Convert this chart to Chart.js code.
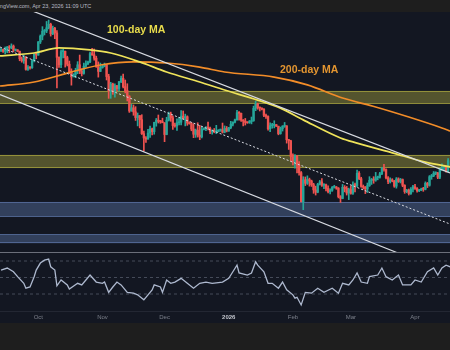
<!DOCTYPE html>
<html>
<head>
<meta charset="utf-8">
<title>BTC daily with moving averages and RSI</title>
<script src="https://cdn.jsdelivr.net/npm/chart.js@4.4.1/dist/chart.umd.min.js"></script>
<style>
  html, body { margin: 0; padding: 0; width: 450px; height: 350px; overflow: hidden; background: #1e1e1e; }
  #head { position: absolute; left: 0; top: 0; width: 450px; height: 12px; background: #1e1e1e; overflow: hidden; }
  #head span { position: absolute; left: -12.5px; top: 3px; line-height: 7px; font: 5.5px "Liberation Sans", Arial, sans-serif; color: #b8bcc6; white-space: nowrap; }
  #priceBox { position: absolute; left: 0; top: 12px; width: 450px; height: 241px; background: #131722; }
  #rsiBox { position: absolute; left: 0; top: 253px; width: 450px; height: 70px; background: #131722; }
  #sep { position: absolute; left: 0; top: 252px; width: 450px; height: 1px; background: #6b6f7a; z-index: 3; }
  .ma { position: absolute; font: bold 10.5px "Liberation Sans", Arial, sans-serif; line-height: 10.5px; white-space: nowrap; z-index: 4; }
</style>
</head>
<body>
<div id="head"><span>TradingView.com, Apr 23, 2026 11:09 UTC</span></div>
<div id="priceBox"><canvas id="priceChart" width="450" height="241"></canvas></div>
<div id="sep"></div>
<div id="rsiBox"><canvas id="rsiChart" width="450" height="70"></canvas></div>
<div class="ma" style="left:107px; top:23.8px; color:#e8dc4c;">100-day MA</div>
<div class="ma" style="left:280px; top:64.4px; color:#e39530;">200-day MA</div>

<script>
// Daily candles, prices in thousands of USD. Day 0 = 13 Sep 2025.
const open = [
  115.5,115.9,115.3,115.4,116.8,116.5,117.1,115.7,115.8,115.3,
  112.7,112.0,113.3,109.0,109.7,109.6,112.1,114.3,114.0,118.6,
  120.6,122.3,122.4,123.5,124.7,121.4,123.3,121.7,113.2,110.6,
  115.2,115.3,113.1,110.8,108.2,106.4,107.2,108.6,110.6,108.4,
  107.6,110.1,111.0,111.6,114.5,114.1,112.9,110.0,108.3,109.6,
  110.1,110.6,106.5,101.5,103.9,101.3,103.3,102.3,104.7,105.9,
  103.0,101.6,99.7,94.5,95.6,94.2,92.2,92.9,91.5,86.6,
  85.1,84.7,86.8,88.3,87.3,90.5,91.3,90.9,90.8,90.4,
  86.3,91.3,93.5,92.1,89.4,89.3,90.4,90.6,92.7,92.0,
  92.5,90.3,90.1,88.2,86.4,87.8,86.1,85.5,88.1,88.3,
  88.6,88.5,87.4,87.6,87.2,87.3,87.8,87.9,87.1,88.4,
  87.5,88.7,89.9,90.6,91.4,93.9,93.7,91.3,91.0,90.5,
  90.4,90.8,91.1,95.4,97.0,95.6,95.5,95.1,93.0,92.6,
  88.3,89.4,89.5,89.7,89.2,86.6,88.3,89.2,89.3,84.5,
  84.1,78.6,76.9,78.7,75.6,73.0,62.9,70.5,69.3,70.6,
  70.1,68.8,67.0,66.2,68.9,69.8,68.6,68.8,67.5,66.4,
  66.9,67.9,68.0,67.6,64.6,64.0,67.9,67.5,65.9,67.1,
  65.8,68.9,68.4,72.8,70.9,68.2,67.9,67.3,68.5,70.3,
  70.6,70.4,71.3,71.4,72.6,74.5,74.1,71.2,69.9,70.5,
  70.1,68.3,70.8,69.9,70.6,68.6,66.4,66.9,65.7,67.2,
  68.1,67.5,66.7,66.9,67.3,67.2,69.3,68.6,71.6,71.9,
  72.8,72.9,71.4,74.3,74.6,74.9,73.4
];
const high = [
  116.3,116.1,116.8,117.0,117.3,117.9,117.5,116.1,115.9,115.4,
  113.3,113.9,113.5,110.3,109.8,112.4,114.4,114.8,118.7,121.0,
  123.9,122.9,125.7,126.2,125.1,124.1,123.7,122.5,113.4,115.8,
  116.0,115.4,113.6,111.9,109.2,107.5,109.4,111.7,114.0,109.2,
  111.2,112.0,111.9,115.0,116.3,116.1,113.6,111.6,111.2,110.6,
  111.2,110.7,107.3,104.5,104.2,104.0,103.4,104.8,106.7,107.4,
  105.3,104.0,99.8,96.8,96.6,96.0,93.8,92.9,93.2,87.5,
  85.6,88.1,89.2,88.5,90.6,91.9,93.1,91.2,92.0,90.4,
  92.3,94.1,94.1,92.7,90.3,91.8,92.3,94.6,94.5,93.4,
  92.8,90.7,90.5,90.0,88.2,90.4,89.5,89.0,88.6,89.1,
  90.6,88.9,87.9,88.4,89.5,88.0,88.2,90.3,89.3,89.1,
  88.8,90.9,90.7,91.7,94.7,94.3,93.8,91.5,91.9,90.7,
  91.2,92.4,96.2,97.9,97.2,95.9,95.6,95.3,93.4,92.8,
  90.4,90.2,91.1,89.8,89.2,88.9,89.4,90.5,89.4,84.6,
  84.3,79.6,79.3,79.0,76.9,73.4,71.6,71.5,71.9,71.1,
  70.4,69.3,68.3,69.3,70.3,70.9,69.2,69.0,68.4,67.4,
  68.2,68.6,68.2,67.8,65.0,68.9,68.5,68.2,67.6,68.4,
  69.8,69.4,73.9,73.4,71.4,68.7,68.2,69.4,71.6,71.0,
  71.6,73.1,71.8,73.1,74.9,75.9,74.3,71.6,71.2,70.9,
  70.3,71.3,71.2,71.0,70.8,68.8,67.2,67.3,67.8,68.6,
  68.9,67.8,67.2,67.6,67.9,69.8,69.6,72.0,72.4,73.4,
  73.3,73.1,74.6,76.1,75.4,75.3,77.9
];
const low = [
  115.2,114.9,114.4,114.8,114.8,116.2,115.1,115.4,115.2,112.0,
  111.5,111.1,108.7,108.6,109.1,109.3,111.6,112.7,113.9,118.0,
  119.3,121.0,121.8,123.1,120.6,121.1,119.7,102.5,109.7,109.6,
  113.0,109.8,110.2,107.5,103.5,106.4,106.1,107.5,107.5,106.7,
  107.3,109.7,110.6,111.3,113.9,112.2,109.7,106.3,108.2,109.4,
  109.9,105.3,98.9,98.9,100.3,99.3,101.5,101.5,104.4,102.5,
  100.8,98.0,94.0,94.4,93.0,91.2,89.3,88.6,86.3,80.6,
  83.5,84.7,85.3,86.2,86.4,89.2,90.3,90.2,90.4,83.8,
  86.2,91.0,90.9,88.1,88.9,87.7,89.6,89.6,91.6,89.3,
  89.5,89.9,87.6,85.2,85.3,85.4,84.5,85.1,87.9,87.6,
  87.9,86.6,86.4,86.9,86.6,87.2,87.4,86.8,86.9,87.2,
  87.4,88.3,89.3,90.3,91.3,91.3,90.9,89.3,89.6,90.2,
  90.2,90.0,90.9,94.6,95.1,94.5,94.9,92.5,91.9,87.8,
  87.3,88.5,88.6,89.1,86.2,86.4,87.5,88.8,83.3,81.1,
  77.0,75.7,74.6,72.9,72.1,62.8,60.1,68.5,68.9,68.3,
  68.2,65.8,65.2,66.0,68.7,68.2,67.4,66.6,65.9,65.6,
  66.5,67.6,67.2,64.2,62.6,63.9,66.3,65.2,63.6,65.5,
  65.4,66.3,68.0,70.6,67.9,67.3,65.7,66.1,68.2,68.9,
  69.3,70.0,70.5,71.1,72.3,73.5,70.8,69.2,69.4,69.8,
  67.9,67.6,69.6,69.4,68.1,65.8,66.0,65.2,65.4,66.3,
  67.2,66.2,66.4,66.7,66.5,67.0,67.8,68.3,70.7,71.6,
  72.3,70.9,70.9,73.8,73.6,73.2,73.2
];
const close = [
  115.9,115.3,115.4,116.8,116.5,117.1,115.7,115.8,115.3,112.7,
  112.0,113.3,109.0,109.7,109.6,112.1,114.3,114.0,118.6,120.6,
  122.3,122.4,123.5,124.7,121.4,123.3,121.7,113.2,110.6,115.2,
  115.3,113.1,110.8,108.2,106.4,107.2,108.6,110.6,108.4,107.6,
  110.1,111.0,111.6,114.5,114.1,112.9,110.0,108.3,109.6,110.1,
  110.6,106.5,101.5,103.9,101.3,103.3,102.3,104.7,105.9,103.0,
  101.6,99.7,94.5,95.6,94.2,92.2,92.9,91.5,86.6,85.1,
  84.7,86.8,88.3,87.3,90.5,91.3,90.9,90.8,90.4,86.3,
  91.3,93.5,92.1,89.4,89.3,90.4,90.6,92.7,92.0,92.5,
  90.3,90.1,88.2,86.4,87.8,86.1,85.5,88.1,88.3,88.6,
  88.5,87.4,87.6,87.2,87.3,87.8,87.9,87.1,88.4,87.5,
  88.7,89.9,90.6,91.4,93.9,93.7,91.3,91.0,90.5,90.4,
  90.8,91.1,95.4,97.0,95.6,95.5,95.1,93.0,92.6,88.3,
  89.4,89.5,89.7,89.2,86.6,88.3,89.2,89.3,84.5,84.1,
  78.6,76.9,78.7,75.6,73.0,62.9,70.5,69.3,70.6,70.1,
  68.8,67.0,66.2,68.9,69.8,68.6,68.8,67.5,66.4,66.9,
  67.9,68.0,67.6,64.6,64.0,67.9,67.5,65.9,67.1,65.8,
  68.9,68.4,72.8,70.9,68.2,67.9,67.3,68.5,70.3,70.6,
  70.4,71.3,71.4,72.6,74.5,74.1,71.2,69.9,70.5,70.1,
  68.3,70.8,69.9,70.6,68.6,66.4,66.9,65.7,67.2,68.1,
  67.5,66.7,66.9,67.3,67.2,69.3,68.6,71.6,71.9,72.8,
  72.9,71.4,74.3,74.6,74.9,73.4,77.2
];

// Moving averages (day index, value)
const ma100Days = [-0.5, 16, 28, 43, 53, 67, 80, 96, 108, 124, 135, 146, 164, 172, 189, 205, 217];
const ma100 =     [113.7, 114.7, 116.5, 115.8, 114.7, 111.6, 108.1, 104.6, 101.8, 98.3, 95.5, 91.4, 85.1, 83.3, 79.9, 76.7, 75.0];
const ma200Days = [-0.5, 16, 32, 48, 64, 80, 96, 108, 132, 148, 165, 181, 197, 213, 217];
const ma200 =     [103.2, 104.6, 107.7, 110.5, 111.6, 111.2, 109.8, 108.1, 106.3, 103.6, 99.0, 95.9, 92.4, 88.6, 87.5];

// Descending channel: upper and lower rails plus dotted mid line
const upperRailDays = [10, 216.9];
const upperRail =     [130.8, 72.9];
const lowerRailDays = [-0.5, 191.8];
const lowerRail =     [100.25, 45.0];
const midLineDays =   [-0.5, 216.9];
const midLine =       [116.8, 55.1];

// Horizontal price zones
const zoneTop =    [101.5, 79.2, 62.8, 51.6];
const zoneBottom = [97.0, 74.6, 57.6, 48.4];
const zoneKind =   ['resistance', 'resistance', 'support', 'support'];

// RSI (14) readings (day index, value) and reference levels
const rsiDays = [0,3,6,8,11,12,14,16,17,19,21,23,24,25,26,27,29,32,33,37,39,41,43,46,49,50,52,54,56,58,61,64,66,69,70,73,74,77,78,80,82,84,87,90,93,96,99,102,107,110,112,114,115,119,121,123,124,127,129,131,134,136,138,141,142,143,145,147,150,153,156,160,163,165,168,170,172,174,177,178,182,184,186,189,192,194,198,200,203,206,209,211,213,215,217];
const rsiValues = [59,61.5,57,51,43,37,38.5,51,59,67.5,71,72.4,63,61,59,40,47,41,36,43,41,47,53,44.5,43,44.5,32,38.5,44.5,41,32,31,29,23,26,35,41,38.5,32,47,43,44.5,49,43,37,43,44.5,43,44.5,49,57,65,55.5,53,55.5,69,65,57,43,43,37,44.5,35,29,25,26,16.7,32,31,37,32,37,31,43,41,47,55.5,44.5,43,51,53,61.5,51,47,53,41,41,47,44.5,57,61.5,53,61.5,65,63];
const rsiLevels = [70, 50, 30];

// Time axis
const monthDays =   [18, 49, 79, 110, 141, 169, 200];
const monthLabels = ['Oct', 'Nov', 'Dec', '2026', 'Feb', 'Mar', 'Apr'];

// ---- styling ----
const UP = '#26a69a';
const DOWN = '#ef5350';
const ZONE_FILL = { resistance: 'rgba(200,195,70,0.36)', support: 'rgba(110,140,200,0.35)' };
const ZONE_EDGE = { resistance: 'rgba(200,195,70,0.55)', support: 'rgba(110,140,200,0.5)' };
const X_MIN = -0.5, X_MAX = 216.9;

const days = open.map((_, i) => i);
const candleColor = (ctx) => close[ctx.dataIndex] >= open[ctx.dataIndex] ? UP : DOWN;
const pairs = (xs, ys) => xs.map((x, i) => ({ x: x, y: ys[i] }));

const zonePlugin = {
  id: 'priceZones',
  beforeDatasetsDraw(chart) {
    const { ctx, chartArea, scales } = chart;
    ctx.save();
    zoneTop.forEach((top, i) => {
      const y1 = scales.y.getPixelForValue(top);
      const y2 = scales.y.getPixelForValue(zoneBottom[i]);
      ctx.fillStyle = ZONE_FILL[zoneKind[i]];
      ctx.fillRect(chartArea.left, y1, chartArea.right - chartArea.left, y2 - y1);
      ctx.strokeStyle = ZONE_EDGE[zoneKind[i]];
      ctx.lineWidth = 1;
      ctx.beginPath();
      ctx.moveTo(chartArea.left, Math.round(y1) + 0.5); ctx.lineTo(chartArea.right, Math.round(y1) + 0.5);
      ctx.moveTo(chartArea.left, Math.round(y2) - 0.5); ctx.lineTo(chartArea.right, Math.round(y2) - 0.5);
      ctx.stroke();
    });
    ctx.restore();
  }
};

new Chart(document.getElementById('priceChart'), {
  type: 'bar',
  data: {
    datasets: [
      {
        label: 'wick', order: 6, grouped: false, barThickness: 1,
        data: days.map(i => ({ x: i, y: [low[i], high[i]] })),
        backgroundColor: candleColor, borderWidth: 0
      },
      {
        label: 'body', order: 5, grouped: false, barThickness: 1.7, minBarLength: 1,
        data: days.map(i => ({ x: i, y: [open[i], close[i]] })),
        backgroundColor: candleColor, borderWidth: 0
      },
      {
        type: 'line', label: '200-day MA', order: 4,
        data: pairs(ma200Days, ma200),
        borderColor: '#f28c28', borderWidth: 1.6, pointRadius: 0, cubicInterpolationMode: 'monotone'
      },
      {
        type: 'line', label: '100-day MA', order: 3,
        data: pairs(ma100Days, ma100),
        borderColor: '#efe35a', borderWidth: 1.7, pointRadius: 0, cubicInterpolationMode: 'monotone'
      },
      {
        type: 'line', label: 'mid', order: 2,
        data: pairs(midLineDays, midLine),
        borderColor: '#d8dbe2', borderWidth: 1, borderDash: [2, 2], pointRadius: 0
      },
      {
        type: 'line', label: 'lower rail', order: 1,
        data: pairs(lowerRailDays, lowerRail),
        borderColor: '#d8dbe2', borderWidth: 1.2, pointRadius: 0
      },
      {
        type: 'line', label: 'upper rail', order: 0,
        data: pairs(upperRailDays, upperRail),
        borderColor: '#d8dbe2', borderWidth: 1.2, pointRadius: 0
      }
    ]
  },
  options: {
    responsive: false,
    animation: false,
    layout: { padding: 0 },
    plugins: { legend: { display: false }, tooltip: { enabled: false } },
    scales: {
      x: { type: 'linear', min: X_MIN, max: X_MAX, offset: false, display: false },
      y: { min: 45, max: 129, display: false }
    }
  },
  plugins: [zonePlugin]
});

new Chart(document.getElementById('rsiChart'), {
  type: 'line',
  data: {
    datasets: [
      {
        label: 'RSI', data: pairs(rsiDays, rsiValues),
        borderColor: '#aeb9cf', borderWidth: 1.3, pointRadius: 0, tension: 0
      },
      ...rsiLevels.map(lvl => ({
        label: 'level ' + lvl,
        data: [{ x: X_MIN, y: lvl }, { x: X_MAX, y: lvl }],
        borderColor: '#454b59', borderWidth: 1, borderDash: [3, 3], pointRadius: 0
      }))
    ]
  },
  options: {
    responsive: false,
    animation: false,
    layout: { padding: 0 },
    plugins: { legend: { display: false }, tooltip: { enabled: false } },
    scales: {
      x: {
        type: 'linear', min: X_MIN, max: X_MAX, offset: false,
        grid: { display: false, drawTicks: false },
        border: { display: true, color: '#232733' },
        afterBuildTicks: (scale) => { scale.ticks = monthDays.map(v => ({ value: v })); },
        afterFit: (scale) => { scale.height = 12; },
        ticks: {
          autoSkip: false, maxRotation: 0, minRotation: 0, padding: 3,
          callback: (value, index) => monthLabels[index],
          color: (c) => c.index === 3 ? '#c3c6ce' : '#7c808b',
          font: (c) => ({ family: 'Liberation Sans', size: 6, weight: c.index === 3 ? 'bold' : 'normal' })
        }
      },
      y: { min: 9.4, max: 79.7, display: false }
    }
  }
});
</script>
</body>
</html>
